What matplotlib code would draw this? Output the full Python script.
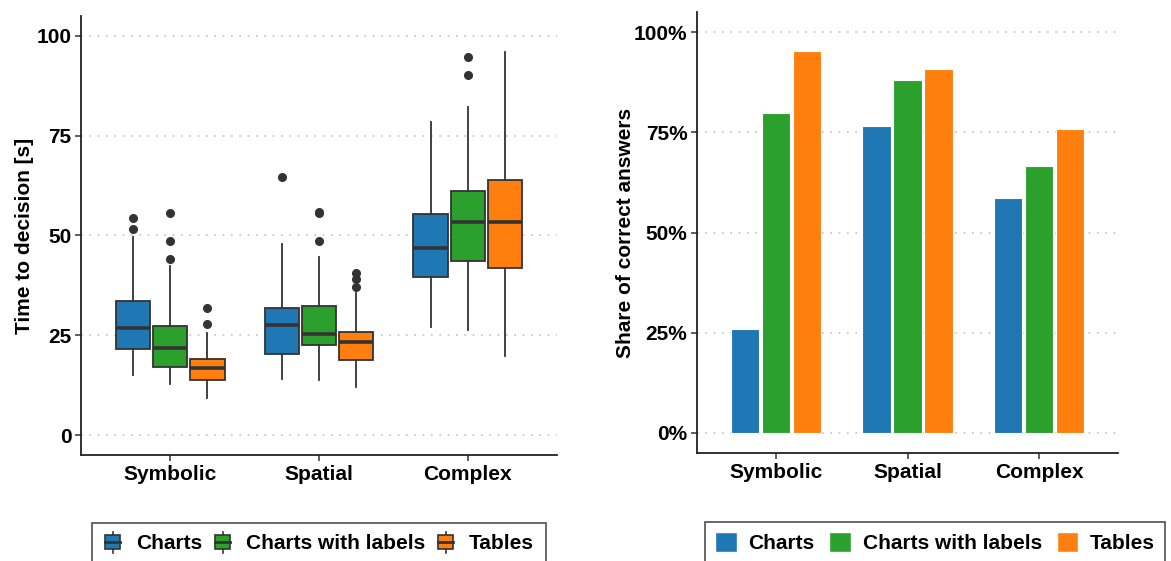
"""
Decision time (box plots) and share of correct answers (bars) by task type.
"""

import matplotlib
matplotlib.use("Agg")
import matplotlib.pyplot as plt
import matplotlib.ticker as mticker
from matplotlib.legend_handler import HandlerBase
from matplotlib.lines import Line2D
from matplotlib.patches import Patch, Rectangle


plt.rcParams["font.family"] = ["Liberation Sans", "DejaVu Sans"]
plt.rcParams["font.weight"] = "bold"

TASKS = ["Symbolic", "Spatial", "Complex"]
CONDITIONS = ["Charts", "Charts with labels", "Tables"]
COLORS = ["#1f77b4", "#2ca02c", "#ff7f0e"]

# box plot statistics, one row per condition, one value per task
WHISLO = [[15.0, 14.0, 27.1], [12.7, 13.7, 26.4], [9.3, 12.0, 19.7]]
Q1 = [[21.6, 20.3, 39.6], [17.0, 22.6, 43.7], [13.7, 18.9, 41.9]]
MEDIAN = [[26.9, 27.5, 46.9], [21.7, 25.4, 53.5], [16.9, 23.3, 53.5]]
Q3 = [[33.6, 31.9, 55.5], [27.2, 32.4, 61.1], [19.1, 25.8, 63.8]]
WHISHI = [[49.7, 47.8, 78.4], [42.4, 44.6, 82.3], [25.5, 35.5, 96.1]]
OUTLIERS = [
    [[51.6, 54.5], [64.7], []],
    [[44.1, 48.7, 55.6], [48.7, 55.6, 56.0], [90.1, 94.7]],
    [[27.7, 31.8], [37.0, 39.2, 40.7], []],
]

# share of correct answers in percent
CORRECT = [[25.9, 76.6, 58.7], [79.8, 88.0, 66.7], [95.2, 90.7, 75.7]]

EDGE = "#333333"
FS = 15


class HandlerBox(HandlerBase):
    def create_artists(self, legend, orig_handle, xdescent, ydescent,
                       width, height, fontsize, trans):
        x0, y0 = -xdescent, -ydescent
        cx = x0 + width / 2
        bw = width * 0.85
        whisk = Line2D([cx, cx], [y0 - 0.25 * height, y0 + 1.25 * height],
                       color=EDGE, lw=1.2, transform=trans)
        box = Rectangle((cx - bw / 2, y0), bw, height,
                        facecolor=orig_handle.get_facecolor(), edgecolor=EDGE,
                        lw=1.2, transform=trans)
        med = Line2D([cx - bw / 2, cx + bw / 2], [y0 + height / 2] * 2,
                     color=EDGE, lw=2.0, transform=trans)
        return [whisk, box, med]


def style_axis(ax):
    ax.spines[["top", "right"]].set_visible(False)
    for s in ("left", "bottom"):
        ax.spines[s].set_color("#222222")
        ax.spines[s].set_linewidth(1.3)
    ax.yaxis.grid(True, color="#c4c4c4", linestyle=(0, (1, 4)), linewidth=1.2)
    ax.set_axisbelow(True)
    ax.tick_params(length=4, width=1.1, color="#333333", labelsize=FS,
                   labelcolor="black", pad=3)
    ax.set_xlim(0.4, 3.6)
    ax.set_xticks([1, 2, 3])
    ax.set_xticklabels(TASKS, fontweight="bold")
    for lab in ax.get_yticklabels():
        lab.set_fontweight("bold")


def main():
    fig = plt.figure(figsize=(11.71, 5.61), dpi=100)
    ax1 = fig.add_axes([81 / 1171, 1 - 455 / 561, 476 / 1171, 439 / 561])
    ax2 = fig.add_axes([697 / 1171, 1 - 453 / 561, 421 / 1171, 441 / 561])

    offsets = [-0.25, 0.0, 0.25]

    # left: time to decision
    for ci, cond in enumerate(CONDITIONS):
        stats = []
        for ti in range(len(TASKS)):
            stats.append({
                "whislo": WHISLO[ci][ti], "q1": Q1[ci][ti], "med": MEDIAN[ci][ti],
                "q3": Q3[ci][ti], "whishi": WHISHI[ci][ti],
                "fliers": OUTLIERS[ci][ti],
            })
        ax1.bxp(
            stats, positions=[t + 1 + offsets[ci] for t in range(len(TASKS))],
            widths=0.23, patch_artist=True, showcaps=False,
            boxprops=dict(facecolor=COLORS[ci], edgecolor=EDGE, linewidth=1.3),
            medianprops=dict(color=EDGE, linewidth=2.6, solid_capstyle="butt"),
            whiskerprops=dict(color=EDGE, linewidth=1.3),
            flierprops=dict(marker="o", markerfacecolor=EDGE, markeredgecolor=EDGE,
                            markersize=5.5),
            manage_ticks=False, zorder=3,
        )
    ax1.set_ylim(-5, 105)
    ax1.set_yticks([0, 25, 50, 75, 100])
    style_axis(ax1)
    ax1.set_ylabel("Time to decision [s]", fontsize=FS, fontweight="bold")
    ax1.yaxis.set_label_coords(-0.098, 0.5)

    handles = [Patch(facecolor=c, label=n) for c, n in zip(COLORS, CONDITIONS)]
    leg1 = fig.legend(
        handles=handles, loc="upper center", ncol=3,
        bbox_to_anchor=(319 / 1171, 1 - 523 / 561), bbox_transform=fig.transFigure,
        handler_map={Patch: HandlerBox()}, fontsize=FS, frameon=True,
        fancybox=False, edgecolor="#222222", handlelength=0.85, handleheight=0.65,
        handletextpad=0.7, columnspacing=0.55, borderpad=0.55, borderaxespad=0,
    )
    leg1.get_frame().set_linewidth(1.2)

    # right: share of correct answers
    for ci, cond in enumerate(CONDITIONS):
        ax2.bar([t + 1 + offsets[ci] * 0.94 for t in range(len(TASKS))], CORRECT[ci],
                width=0.215, color=COLORS[ci], edgecolor="white", linewidth=0.8,
                label=cond, zorder=3)
    ax2.set_ylim(-5, 105)
    ax2.set_yticks([0, 25, 50, 75, 100])
    ax2.yaxis.set_major_formatter(mticker.PercentFormatter(xmax=100, decimals=0))
    style_axis(ax2)
    ax2.set_ylabel("Share of correct answers", fontsize=FS, fontweight="bold")
    ax2.yaxis.set_label_coords(-0.148, 0.5)

    leg2 = fig.legend(
        handles=[Patch(facecolor=c, edgecolor="white", label=n)
                 for c, n in zip(COLORS, CONDITIONS)],
        loc="upper center", ncol=3,
        bbox_to_anchor=(935 / 1171, 1 - 522 / 561), bbox_transform=fig.transFigure,
        fontsize=FS, frameon=True, fancybox=False, edgecolor="#222222",
        handlelength=1.05, handleheight=1.05, handletextpad=0.55,
        columnspacing=0.7, borderpad=0.5, borderaxespad=0,
    )
    leg2.get_frame().set_linewidth(1.2)

    fig.savefig("out.png", dpi=100)


if __name__ == "__main__":
    main()
